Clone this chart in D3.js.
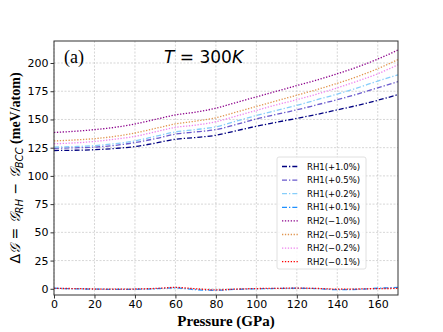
<!DOCTYPE html>
<html>
<head>
<meta charset="utf-8">
<script src="https://cdn.jsdelivr.net/npm/d3@7"></script>
<style>
  body { margin: 0; background: #fff; }
  svg { display: block; }
</style>
</head>
<body>
<div id="chart"></div>
<script>
// ---- data ----
const pressure = [0, 10, 20, 30, 40, 50, 60, 70, 80, 90, 100, 110, 120, 130, 140, 150, 160, 170];

const rh1p10 = [122.5, 122.7, 123.2, 124.3, 126.0, 129.0, 132.5, 134.0, 136.0, 140.0, 144.0, 147.5, 151.0, 154.5, 158.5, 162.5, 167.0, 172.0];
const rh1p05 = [124.5, 124.9, 125.5, 127.0, 129.5, 133.0, 137.0, 139.0, 141.0, 145.5, 150.5, 154.5, 158.5, 163.0, 167.5, 172.5, 178.0, 183.5];
const rh1p02 = [125.5, 126.0, 126.8, 128.5, 131.0, 135.0, 139.0, 141.0, 143.5, 148.5, 153.5, 158.0, 162.5, 167.5, 172.5, 178.0, 184.0, 189.5];
const rh1p01 = [0.5, 0.0, -0.3, -0.5, -0.4, 0.0, 0.8, -0.8, -1.3, -0.5, 0.0, 0.3, 0.5, 0.2, -0.8, -0.5, 0.5, 1.2];
const rh2m10 = [138.5, 139.5, 141.0, 143.0, 146.0, 150.0, 154.0, 156.5, 160.0, 165.0, 170.0, 175.0, 180.0, 185.0, 190.5, 196.5, 203.5, 211.5];
const rh2m05 = [131.0, 131.8, 133.0, 135.0, 138.0, 142.0, 146.0, 148.5, 151.5, 156.5, 161.5, 166.5, 171.5, 176.5, 182.0, 188.0, 195.0, 203.0];
const rh2m02 = [128.5, 129.2, 130.5, 132.5, 135.0, 139.0, 143.0, 145.0, 148.0, 153.0, 158.0, 163.0, 167.5, 172.5, 178.0, 184.0, 190.5, 198.5];
const rh2m01 = [0.3, 0.2, -0.2, -0.3, -0.2, 0.3, 1.2, 0.0, -1.0, -0.3, 0.2, 0.4, 0.6, 0.3, -0.3, -0.2, 0.2, 0.3];

const seriesNames = ["RH1(+1.0%)", "RH1(+0.5%)", "RH1(+0.2%)", "RH1(+0.1%)",
                     "RH2(\u22121.0%)", "RH2(\u22120.5%)", "RH2(\u22120.2%)", "RH2(\u22120.1%)"];
const seriesValues = [rh1p10, rh1p05, rh1p02, rh1p01, rh2m10, rh2m05, rh2m02, rh2m01];
const seriesColors = ["#000080", "#6a5acd", "#87cefa", "#1e90ff",
                      "#8b008b", "#e0954f", "#ee82ee", "#ff0000"];

const xTicks = [0, 20, 40, 60, 80, 100, 120, 140, 160];
const yTicks = [0, 25, 50, 75, 100, 125, 150, 175, 200];

// ---- layout ----
const W = 443, H = 332;
const margin = { top: 41, right: 45, bottom: 37, left: 54 };
const width = W - margin.left - margin.right;
const height = H - margin.top - margin.bottom;

const svg = d3.select("#chart").append("svg")
  .attr("width", W).attr("height", H);

const g = svg.append("g")
  .attr("transform", `translate(${margin.left},${margin.top})`);

const x = d3.scaleLinear().domain([0, 170]).range([0, width]);
const y = d3.scaleLinear().domain([-5.5, 219.5]).range([height, 0]);

// grid
g.append("g")
  .selectAll("line")
  .data(xTicks)
  .join("line")
  .attr("x1", d => x(d)).attr("x2", d => x(d))
  .attr("y1", 0).attr("y2", height)
  .attr("stroke", "#c4c4c4").attr("stroke-width", 0.7)
  .attr("stroke-dasharray", "2 1.5");

g.append("g")
  .selectAll("line")
  .data(yTicks)
  .join("line")
  .attr("x1", 0).attr("x2", width)
  .attr("y1", d => y(d)).attr("y2", d => y(d))
  .attr("stroke", "#c4c4c4").attr("stroke-width", 0.7)
  .attr("stroke-dasharray", "2 1.5");

// lines
const line = d3.line()
  .x((d, i) => x(pressure[i]))
  .y(d => y(d))
  .curve(d3.curveMonotoneX);

seriesValues.forEach((vals, i) => {
  g.append("path")
    .datum(vals)
    .attr("fill", "none")
    .attr("stroke", seriesColors[i])
    .attr("stroke-width", 1.3)
    .attr("stroke-dasharray", i < 4 ? "5 2 1.3 2" : "1.3 1.6")
    .attr("d", line);
});

// axes
const xAxis = g.append("g")
  .attr("transform", `translate(0,${height})`)
  .call(d3.axisBottom(x).tickValues(xTicks).tickSize(3.5).tickPadding(2));
const yAxis = g.append("g")
  .call(d3.axisLeft(y).tickValues(yTicks).tickSize(3.5).tickPadding(2));

[xAxis, yAxis].forEach(a => {
  a.select(".domain").remove();
  a.selectAll("text")
    .attr("font-family", "DejaVu Sans")
    .attr("font-size", "11px")
    .attr("fill", "#000");
  a.selectAll(".tick line").attr("stroke", "#000").attr("stroke-width", 0.8);
});

// frame
g.append("rect")
  .attr("width", width).attr("height", height)
  .attr("fill", "none").attr("stroke", "#333").attr("stroke-width", 1);

// panel labels
g.append("text")
  .attr("x", 10).attr("y", 22)
  .attr("font-family", "Liberation Serif, DejaVu Serif")
  .attr("font-size", "18px")
  .text("(a)");

const title = g.append("text")
  .attr("x", 110).attr("y", 22)
  .attr("font-family", "DejaVu Sans")
  .attr("font-size", "17px");
title.append("tspan").attr("font-style", "italic").text("T");
title.append("tspan").text(" = 300");
title.append("tspan").attr("font-style", "italic").text("K");

// axis titles
svg.append("text")
  .attr("x", margin.left + width / 2).attr("y", H - 6)
  .attr("text-anchor", "middle")
  .attr("font-family", "Liberation Serif, DejaVu Serif")
  .attr("font-weight", "bold")
  .attr("font-size", "15px")
  .text("Pressure (GPa)");

const yl = svg.append("text")
  .attr("transform", `translate(20,${margin.top + height / 2}) rotate(-90)`)
  .attr("text-anchor", "middle")
  .attr("font-family", "DejaVu Sans")
  .attr("font-size", "14px");
yl.append("tspan").text("\u0394");
yl.append("tspan").attr("font-style", "italic").text("\uD835\uDCA2");
yl.append("tspan").text(" = ");
yl.append("tspan").attr("font-style", "italic").text("\uD835\uDCA2");
yl.append("tspan").attr("font-style", "italic").attr("font-size", "10px").attr("dy", 3).text("RH");
yl.append("tspan").attr("dy", -3).text(" \u2212 ");
yl.append("tspan").attr("font-style", "italic").text("\uD835\uDCA2");
yl.append("tspan").attr("font-style", "italic").attr("font-size", "10px").attr("dy", 3).text("BCC");
yl.append("tspan").attr("dy", -3)
  .attr("font-family", "Liberation Serif, DejaVu Serif")
  .attr("font-weight", "bold").text(" (meV/atom)");

// legend
const lg = g.append("g")
  .attr("transform", "translate(223,116)");
lg.append("rect")
  .attr("width", 89).attr("height", 112)
  .attr("rx", 2)
  .attr("fill", "#fff").attr("fill-opacity", 0.85)
  .attr("stroke", "#d8d8d8").attr("stroke-width", 0.8);

seriesNames.forEach((name, i) => {
  const row = lg.append("g").attr("transform", `translate(0,${9.5 + i * 13.6})`);
  row.append("line")
    .attr("x1", 5).attr("x2", 22)
    .attr("stroke", seriesColors[i])
    .attr("stroke-width", 1.3)
    .attr("stroke-dasharray", i < 4 ? "5 2 1.3 2" : "1.3 1.6");
  row.append("text")
    .attr("x", 30).attr("y", 3)
    .attr("font-family", "DejaVu Sans")
    .attr("font-size", "8.5px")
    .text(name);
});
</script>
</body>
</html>
